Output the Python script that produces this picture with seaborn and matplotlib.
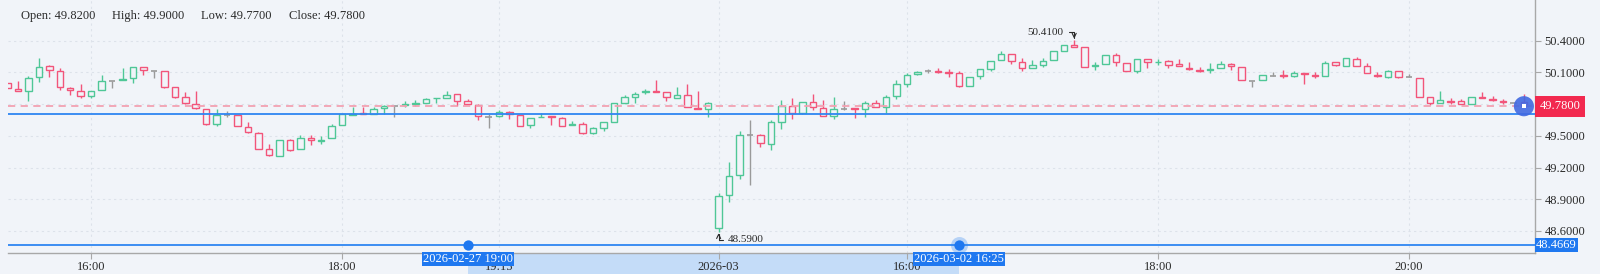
import numpy as np
import pandas as pd
import matplotlib
matplotlib.use("Agg")
import matplotlib.pyplot as plt
import matplotlib.transforms as mtransforms
from matplotlib.patches import Rectangle
import seaborn as sns

# ---------------- data ----------------
open_ = [50.00, 49.94, 49.92, 50.06, 50.16, 50.11, 49.95, 49.92, 49.88, 49.93,
         50.02, 50.03, 50.05, 50.15, 50.11, 50.11, 49.96, 49.865, 49.80, 49.75,
         49.61, 49.70, 49.695, 49.58, 49.53, 49.38, 49.31, 49.46, 49.375, 49.475,
         49.455, 49.475, 49.60, 49.70, 49.715, 49.71, 49.76, 49.785, 49.795, 49.805,
         49.81, 49.855, 49.855, 49.895, 49.83, 49.79, 49.68, 49.69, 49.73, 49.695,
         49.60, 49.675, 49.685, 49.665, 49.605, 49.61, 49.525, 49.57, 49.635, 49.81,
         49.865, 49.915, 49.925, 49.91, 49.855, 49.89, 49.765, 49.755, 48.625, 48.94,
         49.125, 49.51, 49.51, 49.42, 49.635, 49.78, 49.72, 49.82, 49.76, 49.69,
         49.75, 49.76, 49.75, 49.815, 49.77, 49.875, 49.995, 50.085, 50.11, 50.115,
         50.105, 50.09, 49.975, 50.065, 50.13, 50.22, 50.27, 50.195, 50.14, 50.17,
         50.22, 50.305, 50.36, 50.34, 50.165, 50.18, 50.265, 50.19, 50.115, 50.225,
         50.195, 50.21, 50.175, 50.145, 50.125, 50.125, 50.14, 50.175, 50.155, 50.02,
         50.03, 50.07, 50.08, 50.065, 50.095, 50.075, 50.07, 50.20, 50.165, 50.225,
         50.16, 50.08, 50.06, 50.11, 50.06, 50.05, 49.865, 49.81, 49.83, 49.83,
         49.80, 49.865, 49.85, 49.83, 49.815, 49.82]
high = [50.00, 50.02, 50.07, 50.24, 50.17, 50.14, 49.96, 49.99, 49.92, 50.08,
        50.02, 50.14, 50.15, 50.15, 50.11, 50.11, 49.96, 49.91, 49.92, 49.75,
        49.755, 49.735, 49.70, 49.63, 49.535, 49.42, 49.46, 49.47, 49.51, 49.51,
        49.50, 49.61, 49.705, 49.775, 49.775, 49.775, 49.79, 49.785, 49.825, 49.84,
        49.86, 49.86, 49.925, 49.895, 49.85, 49.80, 49.71, 49.74, 49.735, 49.70,
        49.67, 49.72, 49.685, 49.68, 49.64, 49.63, 49.585, 49.63, 49.81, 49.89,
        49.91, 49.94, 50.03, 49.91, 49.965, 49.99, 49.92, 49.82, 48.96, 49.25,
        49.55, 49.65, 49.515, 49.65, 49.84, 49.855, 49.82, 49.895, 49.84, 49.865,
        49.83, 49.76, 49.83, 49.84, 49.89, 50.03, 50.09, 50.11, 50.135, 50.14,
        50.13, 50.115, 50.06, 50.135, 50.21, 50.30, 50.275, 50.24, 50.22, 50.24,
        50.30, 50.36, 50.41, 50.34, 50.195, 50.26, 50.28, 50.19, 50.23, 50.23,
        50.225, 50.215, 50.225, 50.195, 50.15, 50.19, 50.21, 50.19, 50.155, 50.02,
        50.075, 50.10, 50.12, 50.11, 50.095, 50.10, 50.21, 50.20, 50.24, 50.25,
        50.19, 50.10, 50.12, 50.115, 50.085, 50.05, 49.865, 49.92, 49.855, 49.85,
        49.87, 49.91, 49.875, 49.845, 49.815, 49.90]
low = [49.95, 49.92, 49.83, 50.01, 50.06, 49.93, 49.89, 49.86, 49.86, 49.93,
       49.95, 50.03, 50.00, 50.08, 50.05, 49.95, 49.855, 49.80, 49.755, 49.60,
       49.59, 49.675, 49.59, 49.53, 49.38, 49.31, 49.31, 49.355, 49.375, 49.415,
       49.42, 49.475, 49.60, 49.70, 49.705, 49.71, 49.71, 49.68, 49.775, 49.785,
       49.81, 49.81, 49.855, 49.78, 49.80, 49.65, 49.57, 49.68, 49.655, 49.59,
       49.57, 49.675, 49.60, 49.59, 49.605, 49.52, 49.52, 49.545, 49.63, 49.81,
       49.81, 49.90, 49.915, 49.825, 49.855, 49.77, 49.755, 49.675, 48.59, 48.87,
       49.09, 49.035, 49.39, 49.37, 49.56, 49.655, 49.71, 49.745, 49.69, 49.66,
       49.74, 49.67, 49.68, 49.77, 49.72, 49.85, 49.96, 50.08, 50.09, 50.09,
       50.06, 49.965, 49.97, 50.035, 50.115, 50.22, 50.18, 50.115, 50.14, 50.155,
       50.22, 50.30, 50.345, 50.155, 50.12, 50.18, 50.16, 50.115, 50.09, 50.14,
       50.17, 50.14, 50.165, 50.12, 50.10, 50.09, 50.14, 50.12, 50.03, 49.965,
       50.03, 50.07, 50.045, 50.055, 49.995, 50.045, 50.065, 50.165, 50.165, 50.165,
       50.09, 50.055, 50.05, 50.05, 50.06, 49.865, 49.79, 49.81, 49.80, 49.80,
       49.80, 49.855, 49.825, 49.80, 49.815, 49.77]
close = [49.95, 49.92, 50.05, 50.15, 50.12, 49.96, 49.93, 49.88, 49.92, 50.02,
         50.02, 50.035, 50.15, 50.12, 50.11, 49.96, 49.87, 49.81, 49.76, 49.61,
         49.695, 49.70, 49.59, 49.535, 49.38, 49.315, 49.46, 49.37, 49.475, 49.465,
         49.465, 49.59, 49.705, 49.71, 49.705, 49.755, 49.785, 49.785, 49.80, 49.81,
         49.85, 49.86, 49.89, 49.83, 49.80, 49.69, 49.68, 49.73, 49.705, 49.595,
         49.665, 49.68, 49.675, 49.595, 49.61, 49.525, 49.57, 49.63, 49.81, 49.865,
         49.90, 49.92, 49.915, 49.865, 49.89, 49.77, 49.755, 49.815, 48.93, 49.12,
         49.51, 49.51, 49.43, 49.63, 49.78, 49.72, 49.82, 49.77, 49.69, 49.755,
         49.75, 49.75, 49.81, 49.77, 49.87, 49.99, 50.08, 50.105, 50.11, 50.105,
         50.095, 49.975, 50.06, 50.13, 50.21, 50.27, 50.21, 50.14, 50.17, 50.21,
         50.30, 50.36, 50.345, 50.155, 50.17, 50.26, 50.195, 50.115, 50.225, 50.195,
         50.20, 50.17, 50.165, 50.135, 50.115, 50.13, 50.18, 50.165, 50.03, 50.02,
         50.075, 50.07, 50.07, 50.09, 50.085, 50.065, 50.19, 50.17, 50.235, 50.165,
         50.09, 50.07, 50.11, 50.055, 50.06, 49.87, 49.815, 49.84, 49.82, 49.805,
         49.87, 49.855, 49.84, 49.82, 49.815, 49.78]

xtick_pos = [8, 32, 47, 68, 86, 110, 134]
xtick_labels = ["16:00", "18:00", "19:15", "2026-03", "16:00", "18:00", "20:00"]
ytick_vals = [48.6, 48.9, 49.2, 49.5, 49.8, 50.1, 50.4]
hidden_ytick = 49.8
last_price = 49.78
blue_level = 49.71
slider_level = 48.4669
slider_handles = [44, 91]
slider_labels = ["2026-02-27 19:00", "2026-03-02 16:25"]

# ---------------- style ----------------
BG = "#f1f4f9"
UP = "#4fc797"
DOWN = "#f2557a"
FLAT = "#9a9a9a"
BLUE = "#2f86f2"
TXT = "#2a2a2a"

sns.set_theme(style="white")
plt.rcParams["font.family"] = ["Liberation Serif", "DejaVu Serif"]
plt.rcParams["axes.axisbelow"] = False

df = pd.DataFrame({"o": open_, "h": high, "l": low, "c": close})
df["i"] = np.arange(len(df))
df["col"] = np.where(df.c > df.o, UP, np.where(df.c < df.o, DOWN, FLAT))

W, H = 1600, 274
fig = plt.figure(figsize=(W / 100, H / 100), dpi=100, facecolor=BG)
ax = fig.add_axes([8 / W, 21 / H, 1527 / W, 253 / H], facecolor=BG)
ax.set_axisbelow(False)
ax.set_xlim(0.05, 146.06)
ax.set_ylim(48.3915, 50.785)

# grid
for v in ytick_vals:
    ax.axhline(v, color="#dde2ea", lw=0.8, ls=(0, (2, 3)), zorder=0.5)
for p in xtick_pos:
    ax.axvline(p, color="#dde2ea", lw=0.8, ls=(0, (2, 3)), zorder=0.5)

# wicks
ax.vlines(df.i, df.l, df.h, colors=df.col, lw=1.0, zorder=2)
# bodies
body = df[df.c != df.o]
ax.bar(body.i, (body.c - body.o).abs(), bottom=np.minimum(body.o, body.c),
       width=0.62, facecolor=BG, edgecolor=body.col, linewidth=1.0, zorder=3)
flat = df[df.c == df.o]
ax.hlines(flat.c, flat.i - 0.31, flat.i + 0.31, colors=FLAT, lw=1.2, zorder=3)

# level lines
ax.axhline(last_price, color="#f3a1b2", lw=1.3, ls=(0, (4, 3)), zorder=4)
ax.axhline(blue_level, color=BLUE, lw=1.3, zorder=4)
ax.axhline(slider_level, color=BLUE, lw=1.3, zorder=4)

# spines & ticks
for s in ["left", "top"]:
    ax.spines[s].set_visible(False)
for s in ["right", "bottom"]:
    ax.spines[s].set_color("#a8a8a8")
    ax.spines[s].set_linewidth(1.0)
ax.yaxis.tick_right()
shown = [v for v in ytick_vals if v != hidden_ytick]
ax.set_yticks(shown, [f"{v:.4f}" for v in shown])
ax.set_xticks(xtick_pos, xtick_labels)
ax.tick_params(axis="y", left=False, right=True, labelleft=False, labelright=True,
               length=4, width=0.8, color="#a8a8a8", pad=3, labelsize=9, labelcolor=TXT)
ax.tick_params(axis="x", bottom=True, length=4, width=0.8, color="#a8a8a8",
               pad=2, labelsize=9, labelcolor=TXT)

# right-side value tags
tY = mtransforms.blended_transform_factory(ax.transAxes, ax.transData)
ax.text(1.0 + 4.4 / 1527, last_price, f"{last_price:.4f}", transform=tY, ha="left",
        va="center", color="white", fontsize=9, clip_on=False, zorder=10,
        bbox=dict(boxstyle="square,pad=0.35", fc="#f2294f", ec="none"))
ax.text(1.0 + 1.2 / 1527, slider_level, f"{slider_level:.4f}", transform=tY, ha="left",
        va="center", color="white", fontsize=9, clip_on=False, zorder=10,
        bbox=dict(boxstyle="square,pad=0.08", fc="#1f78f0", ec="none"))

# data-zoom slider
tX = mtransforms.blended_transform_factory(ax.transData, ax.transAxes)
ax.add_patch(Rectangle((slider_handles[0], -21 / 253), slider_handles[1] - slider_handles[0],
                       21 / 253, transform=tX, fc="#c4dcf8", ec="none",
                       clip_on=False, zorder=0.2))
ax.scatter([slider_handles[1]], [slider_level], s=150, color=BLUE, alpha=0.3,
           zorder=8, clip_on=False, linewidths=0)
ax.scatter(slider_handles, [slider_level] * 2, s=55, color="#1f78f0",
           zorder=9, clip_on=False, linewidths=0)
for hx, lab in zip(slider_handles, slider_labels):
    ax.text(hx, -0.0225, lab, transform=tX, ha="center", va="center", color="white",
            fontsize=9, clip_on=False, zorder=11,
            bbox=dict(boxstyle="square,pad=0.08", fc="#1f78f0", ec="none"))

# last price marker
sns.scatterplot(x=[145], y=[last_price], s=210, color="#4169e1", alpha=0.9,
                edgecolor="none", ax=ax, zorder=12, legend=False, clip_on=False)
ax.scatter([145], [last_price], marker="s", s=9, color="white", zorder=13, linewidths=0)

# max / min annotations
hi_i = int(np.argmax(high))
lo_i = int(np.argmin(low))
arrow = dict(arrowstyle="->,head_length=0.25,head_width=0.12",
             connectionstyle="angle,angleA=0,angleB=90,rad=0",
             color=TXT, lw=0.8, shrinkA=0, shrinkB=0)
ax.text(hi_i - 1.0, high[hi_i] + 0.07, f"{high[hi_i]:.4f}", ha="right", va="center",
        fontsize=8, color=TXT, zorder=6)
ax.annotate("", xy=(hi_i, high[hi_i] + 0.008), xytext=(hi_i - 0.5, high[hi_i] + 0.072),
            arrowprops=arrow, zorder=6)
ax.text(lo_i + 0.85, low[lo_i] - 0.072, f"{low[lo_i]:.4f}", ha="left", va="center",
        fontsize=8, color=TXT, zorder=6)
ax.annotate("", xy=(lo_i, low[lo_i] - 0.01), xytext=(lo_i + 0.45, low[lo_i] - 0.075),
            arrowprops=arrow, zorder=6)

# OHLC header
head = [("Open", open_[-1], 21), ("High", high[-1], 112),
        ("Low", low[-1], 201), ("Close", close[-1], 289)]
for name, val, px in head:
    fig.text(px / W, 1 - 16 / H, f"{name}: {val:.4f}", ha="left", va="center",
             fontsize=9, color=TXT)

fig.savefig("out.png", dpi=100, facecolor=BG)
